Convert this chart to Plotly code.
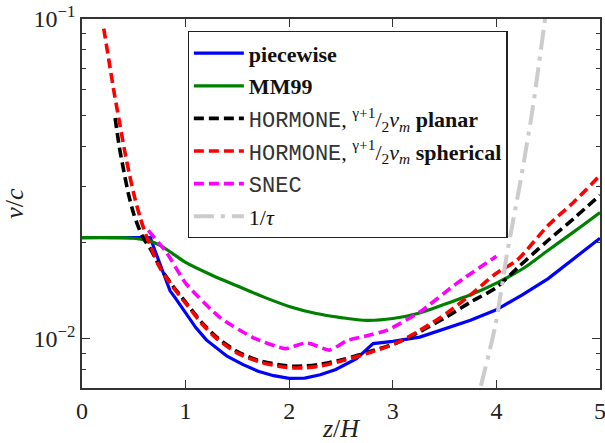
import plotly.graph_objects as go

# Velocity profiles v/c as a function of height z/H
z_piece = [0.0, 0.3, 0.66, 0.70, 0.75, 0.85, 0.9, 1.0, 1.1, 1.2, 1.3, 1.4, 1.55, 1.7, 1.85, 2.0,
           2.15, 2.3, 2.45, 2.65, 2.81, 3.0, 3.26, 3.5, 3.75, 4.0, 4.25, 4.5, 4.75, 5.0]
v_piece = [0.0207, 0.0207, 0.0207, 0.0190, 0.0172, 0.0141, 0.0134, 0.0120, 0.0108, 0.0099,
           0.0093, 0.0088, 0.0083, 0.0079, 0.00765, 0.0075, 0.00752, 0.0077, 0.0080, 0.00865,
           0.00964, 0.0098, 0.0101, 0.0107, 0.0114, 0.0123, 0.0137, 0.0154, 0.0178, 0.0206]

z_mm99 = [0.0, 0.3, 0.5, 0.65, 0.75, 0.9, 1.0, 1.25, 1.5, 1.75, 2.0, 2.25, 2.5, 2.75, 3.0,
          3.25, 3.5, 3.75, 4.0, 4.25, 4.5, 4.75, 5.0]
v_mm99 = [0.0207, 0.0207, 0.0206, 0.0202, 0.0196, 0.0182, 0.0173, 0.0158, 0.0146, 0.0135,
          0.0126, 0.0120, 0.01163, 0.0114, 0.01155, 0.0120, 0.0128, 0.0137, 0.0149, 0.0165,
          0.0189, 0.0216, 0.0248]

z_planar = [0.32, 0.36, 0.40, 0.45, 0.50, 0.55, 0.60, 0.66, 0.75, 0.85, 1.0, 1.17, 1.3, 1.5,
            1.7, 1.85, 2.0, 2.15, 2.3, 2.52, 2.78, 3.04, 3.26, 3.52, 3.75, 4.0, 4.2, 4.5,
            4.75, 5.0]
v_planar = [0.0490, 0.0398, 0.0339, 0.0282, 0.0245, 0.0221, 0.0204, 0.0191, 0.0168, 0.0150,
            0.0130, 0.0111, 0.0101, 0.0091, 0.00855, 0.00833, 0.0082, 0.0082, 0.0083, 0.0086,
            0.0091, 0.0097, 0.0105, 0.0117, 0.0130, 0.01445, 0.0166, 0.0203, 0.0238, 0.0281]

z_spherical = [0.21, 0.26, 0.31, 0.36, 0.41, 0.46, 0.51, 0.56, 0.61, 0.66, 0.75, 0.85, 1.0, 1.17,
               1.3, 1.5, 1.7, 1.85, 2.0, 2.15, 2.3, 2.52, 2.78, 3.04, 3.26, 3.52, 3.75, 4.0,
               4.2, 4.5, 4.75, 5.0]
v_spherical = [0.0933, 0.0741, 0.0589, 0.0479, 0.0389, 0.0324, 0.0275, 0.0240, 0.0214, 0.0195,
               0.0167, 0.0149, 0.0129, 0.0110, 0.0100, 0.0090, 0.00848, 0.00825, 0.0081, 0.0081,
               0.0082, 0.00853, 0.00904, 0.0097, 0.0106, 0.0120, 0.0137, 0.0160, 0.0176, 0.0226,
               0.0268, 0.0324]

z_snec = [0.64, 0.82, 1.0, 1.33, 1.65, 1.96, 2.17, 2.39, 2.56, 2.75, 2.94, 3.26, 3.62, 4.0]
v_snec = [0.0218, 0.0185, 0.0149, 0.01164, 0.01007, 0.0093, 0.0097, 0.0092, 0.00986, 0.0102,
          0.0106, 0.0121, 0.0149, 0.0181]

z_tau = [3.85, 3.99, 4.10, 4.23, 4.34, 4.47]
v_tau = [0.0071, 0.0110, 0.0182, 0.0308, 0.050, 0.100]

x_ticks = [0, 1, 2, 3, 4, 5]
y_ticks = [0.01, 0.1]
y_tick_text = ["10<sup>−2</sup>", "10<sup>−1</sup>"]
y_minor = [0.007, 0.008, 0.009, 0.02, 0.03, 0.04, 0.05, 0.06, 0.07, 0.08, 0.09]

SERIF = "Liberation Serif"
MONO = '<span style="font-family:Liberation Mono;fill:#333333">HORMONE</span>'
FRAC = '<sup>γ+1</sup>/<sub>2</sub><i>v</i><sub><i>m</i></sub>'

# (x, y, legend label, line style, curve shape, smoothing)
series = [
    (z_piece, v_piece, "<b>piecewise</b>", dict(color="#0000ff", width=3.2), "linear", None),
    (z_mm99, v_mm99, "<b>MM99</b>", dict(color="#008000", width=3.2), "spline", 0.9),
    (z_planar, v_planar, f"{MONO}, {FRAC} <b>planar</b>",
     dict(color="#000000", width=3.6, dash="10px,5px"), "spline", 0.8),
    (z_spherical, v_spherical, f"{MONO}, {FRAC} <b>spherical</b>",
     dict(color="#ff0000", width=3.6, dash="10px,5px"), "spline", 0.8),
    (z_snec, v_snec, '<span style="font-family:Liberation Mono;fill:#333333">SNEC</span>',
     dict(color="#ff00ff", width=3.6, dash="10px,5px"), "spline", 0.5),
    (z_tau, v_tau, "1/<i>τ</i>",
     dict(color="#cccccc", width=4, dash="20px,7px,4px,7px"), "spline", 0.8),
]

fig = go.Figure()
for i, (zs, vs, name, line, shape, smooth) in enumerate(series):
    line_spec = dict(**line, shape=shape)
    if smooth is not None:
        line_spec["smoothing"] = smooth
    fig.add_trace(go.Scatter(x=zs, y=vs, mode="lines", name=name, line=line_spec,
                             legendgroup=f"g{i}"))

axis_common = dict(
    showline=True, linecolor="#333333", linewidth=1.5, mirror="ticks",
    ticks="inside", ticklen=8, tickwidth=1, tickcolor="#333333",
    showgrid=False, zeroline=False, automargin=False, ticklabeloverflow="allow",
    tickfont=dict(family=SERIF, size=24, color="#222222"),
)

fig.update_xaxes(
    range=[0, 5], tickmode="array", tickvals=x_ticks,
    ticktext=[str(t) for t in x_ticks],
    title=dict(text="<i>z</i>/<i>H</i>", font=dict(family=SERIF, size=26, color="#222222"),
               standoff=6),
    **axis_common,
)
fig.update_yaxes(
    type="log", range=[-2.1549, -1], tickmode="array", tickvals=y_ticks,
    ticktext=y_tick_text,
    minor=dict(tickmode="array", tickvals=y_minor, ticks="inside", ticklen=4,
               tickcolor="#333333", showgrid=False),
    title=dict(text="<i>v</i>/<i>c</i>", font=dict(family=SERIF, size=26, color="#222222"),
               standoff=10),
    **axis_common,
)

fig.update_layout(
    width=605, height=443,
    margin=dict(l=82, r=5, t=19, b=55),
    plot_bgcolor="white", paper_bgcolor="white",
    font=dict(family=SERIF, color="#111111"),
    legend=dict(
        x=0.204, y=0.967, xanchor="left", yanchor="top",
        bgcolor="white", bordercolor="#222222", borderwidth=1.2,
        font=dict(family=SERIF, size=22, color="#111111"),
        tracegroupgap=1, itemwidth=50,
    ),
)

fig.write_html("out.html")
